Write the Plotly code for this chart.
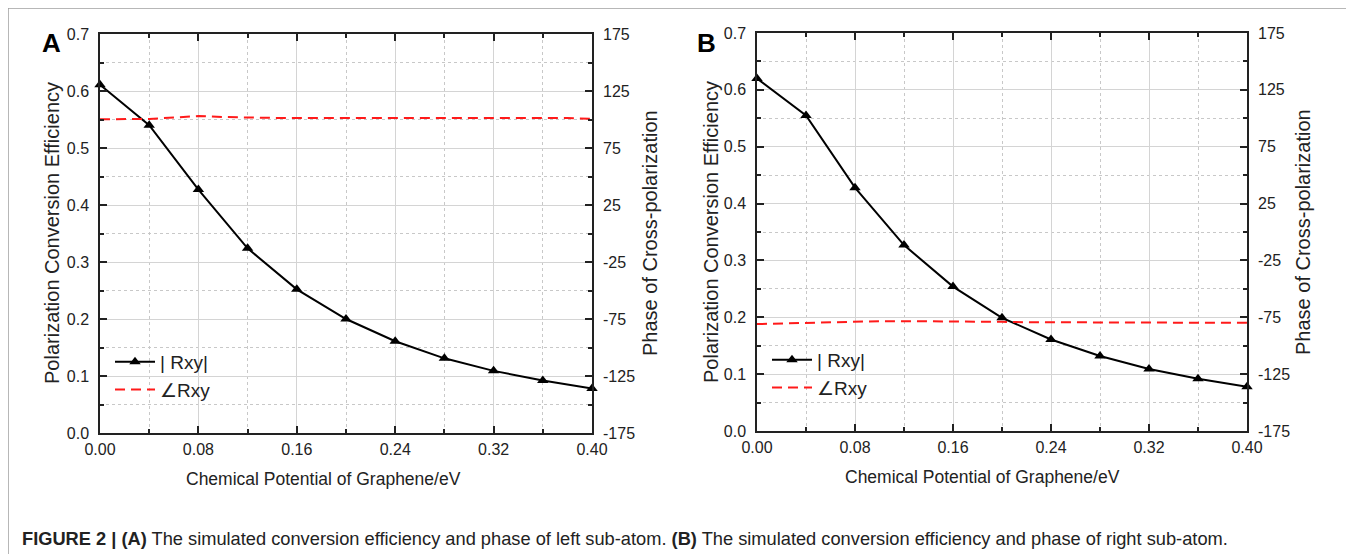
import plotly.graph_objects as go

# ---------------- data ----------------
mu = [0.00, 0.04, 0.08, 0.12, 0.16, 0.20, 0.24, 0.28, 0.32, 0.36, 0.40]
eff_A = [0.611, 0.540, 0.427, 0.324, 0.252, 0.200, 0.161, 0.131, 0.109, 0.092, 0.078]
eff_B = [0.620, 0.555, 0.428, 0.327, 0.254, 0.199, 0.161, 0.132, 0.109, 0.092, 0.078]

mu_fine = [0.00, 0.02, 0.04, 0.06, 0.08, 0.10, 0.12, 0.14, 0.16, 0.18, 0.20,
           0.22, 0.24, 0.26, 0.28, 0.30, 0.32, 0.34, 0.36, 0.38, 0.40]
phase_A = [100.2, 100.2, 100.5, 101.7, 103.1, 102.2, 101.7, 101.4, 101.4, 101.4, 101.4,
           101.4, 101.4, 101.4, 101.4, 101.4, 101.4, 101.4, 101.4, 101.3, 100.5]
phase_B = [-81.0, -80.4, -79.9, -79.3, -78.7, -78.4, -78.4, -78.4, -78.4, -78.7, -79.0,
           -79.3, -79.3, -79.6, -79.9, -79.9, -79.9, -79.9, -79.9, -79.9, -79.9]

x_ticks = [0.00, 0.08, 0.16, 0.24, 0.32, 0.40]
y_ticks = [0.0, 0.1, 0.2, 0.3, 0.4, 0.5, 0.6, 0.7]
y2_ticks = [-175, -125, -75, -25, 25, 75, 125, 175]
y2_labels = ["-175", "-125", "-75", "-25", "25", "75", "125", "175"]

# page body has an 8px margin: figure is sized to fit inside the window
OFF = 8
W, H = 1354 - OFF, 554 - OFF
FONT = "Liberation Sans, Arial, sans-serif"

fig = go.Figure()

def px_x(p):
    return (p - OFF) / W

def px_y(p):
    return 1 - (p - OFF) / H

panels = {
    "A": dict(x0=100, x1=592, y0=34, y1=433, xa="x", ya="y", ya2="y2",
              eff=eff_A, ph=phase_A, legend="legend"),
    "B": dict(x0=757, x1=1247, y0=33, y1=431, xa="x2", ya="y3", ya2="y4",
              eff=eff_B, ph=phase_B, legend="legend2"),
}

for name, p in panels.items():
    fig.add_trace(go.Scatter(
        x=mu, y=p["eff"], mode="lines+markers", name="| Rxy|",
        line=dict(color="black", width=2),
        marker=dict(symbol="triangle-up", size=10, color="black"),
        xaxis=p["xa"], yaxis=p["ya"], legend=p["legend"], cliponaxis=False))
    fig.add_trace(go.Scatter(
        x=mu_fine, y=p["ph"], mode="lines", name="∠Rxy",
        line=dict(color="#ff1a1a", width=2, dash="10px,6px"),
        xaxis=p["xa"], yaxis=p["ya2"], legend=p["legend"]))

tickfont = dict(family=FONT, size=16, color="#222")
grid_major = "#d4d4d4"

def xaxis_cfg(p, anchor):
    return dict(domain=[px_x(p["x0"]), px_x(p["x1"])], anchor=anchor,
                range=[0, 0.40], tickvals=x_ticks, tickformat=".2f",
                ticks="inside", ticklen=7, tickwidth=1.5, tickcolor="#222",
                showline=True, linecolor="#222", linewidth=1.5, mirror="ticks",
                showgrid=True, gridcolor=grid_major, gridwidth=1,
                minor=dict(dtick=0.04, tick0=0, ticks="inside", ticklen=4,
                           tickcolor="#222", showgrid=True, gridcolor="#c8c8c8",
                           griddash="dot", gridwidth=1),
                tickfont=tickfont, zeroline=False, fixedrange=True,
                automargin=False, ticklabelstandoff=1)

def yaxis_cfg(p, anchor):
    return dict(domain=[px_y(p["y1"]), px_y(p["y0"])], anchor=anchor,
                range=[0, 0.7], tickvals=y_ticks, tickformat=".1f",
                ticks="inside", ticklen=7, tickwidth=1.5, tickcolor="#222",
                showline=True, linecolor="#222", linewidth=1.5, mirror=True,
                showgrid=True, gridcolor=grid_major, gridwidth=1,
                minor=dict(dtick=0.05, tick0=0, ticks="inside", ticklen=4,
                           tickcolor="#222", showgrid=True, gridcolor="#c8c8c8",
                           griddash="dot", gridwidth=1),
                tickfont=tickfont, zeroline=False, fixedrange=True,
                automargin=False, ticklabelstandoff=6)

def y2axis_cfg(p, anchor, overlay):
    return dict(domain=[px_y(p["y1"]), px_y(p["y0"])], anchor=anchor,
                overlaying=overlay, side="right",
                range=[-175, 175], tickvals=y2_ticks, ticktext=y2_labels,
                ticks="inside", ticklen=7, tickwidth=1.5, tickcolor="#222",
                showline=False, showgrid=False,
                minor=dict(dtick=25, tick0=-175, ticks="inside", ticklen=4,
                           tickcolor="#222", showgrid=False),
                tickfont=tickfont, zeroline=False, fixedrange=True,
                automargin=False, ticklabelstandoff=10)

pA, pB = panels["A"], panels["B"]
fig.update_layout(
    template="none",
    xaxis=xaxis_cfg(pA, "y"),
    yaxis=yaxis_cfg(pA, "x"),
    yaxis2=y2axis_cfg(pA, "x", "y"),
    xaxis2=xaxis_cfg(pB, "y3"),
    yaxis3=yaxis_cfg(pB, "x2"),
    yaxis4=y2axis_cfg(pB, "x2", "y3"),
)

legend_common = dict(font=dict(family=FONT, size=19, color="#222"),
                     bgcolor="rgba(0,0,0,0)", xanchor="left", yanchor="top",
                     tracegroupgap=0, itemwidth=40, borderwidth=0)
fig.update_layout(
    legend=dict(x=px_x(110), y=px_y(343), **legend_common),
    legend2=dict(x=px_x(767), y=px_y(341), **legend_common),
)

title_font_x = dict(family=FONT, size=17.5, color="#222")
title_font_y = dict(family=FONT, size=20, color="#222")
annotations = [
    dict(text="<b>A</b>", x=px_x(51), y=px_y(43), font=dict(family=FONT, size=26, color="black")),
    dict(text="<b>B</b>", x=px_x(706), y=px_y(43), font=dict(family=FONT, size=26, color="black")),
    dict(text="Polarization Conversion Efficiency", x=px_x(52), y=px_y(233), textangle=-90, font=title_font_y),
    dict(text="Phase of Cross-polarization", x=px_x(650), y=px_y(233), textangle=-90, font=title_font_y),
    dict(text="Chemical Potential of Graphene/eV", x=px_x(323), y=px_y(479), font=title_font_x),
    dict(text="Polarization Conversion Efficiency", x=px_x(711), y=px_y(232), textangle=-90, font=title_font_y),
    dict(text="Phase of Cross-polarization", x=px_x(1303), y=px_y(232), textangle=-90, font=title_font_y),
    dict(text="Chemical Potential of Graphene/eV", x=px_x(982), y=px_y(477), font=title_font_x),
]
for a in annotations:
    a.update(xref="paper", yref="paper", showarrow=False, xanchor="center", yanchor="middle")

annotations.append(dict(
    text="<b>FIGURE 2 | (A)</b> The simulated conversion efficiency and phase of left sub-atom. "
         "<b>(B)</b> The simulated conversion efficiency and phase of right sub-atom.",
    x=px_x(20), y=px_y(538), xref="paper", yref="paper", showarrow=False,
    xanchor="left", yanchor="middle", font=dict(family=FONT, size=18.25, color="#222")))

fig.update_layout(
    annotations=annotations,
    shapes=[dict(type="rect", xref="paper", yref="paper",
                 x0=px_x(8), x1=px_x(1349), y0=-0.1, y1=px_y(8),
                 line=dict(color="#a0a0a0", width=1.5), layer="below")],
    width=W, height=H,
    margin=dict(l=0, r=0, t=0, b=0, pad=0, autoexpand=False),
    paper_bgcolor="white", plot_bgcolor="white",
    font=dict(family=FONT, color="#222"),
)

fig.write_html("out.html")
